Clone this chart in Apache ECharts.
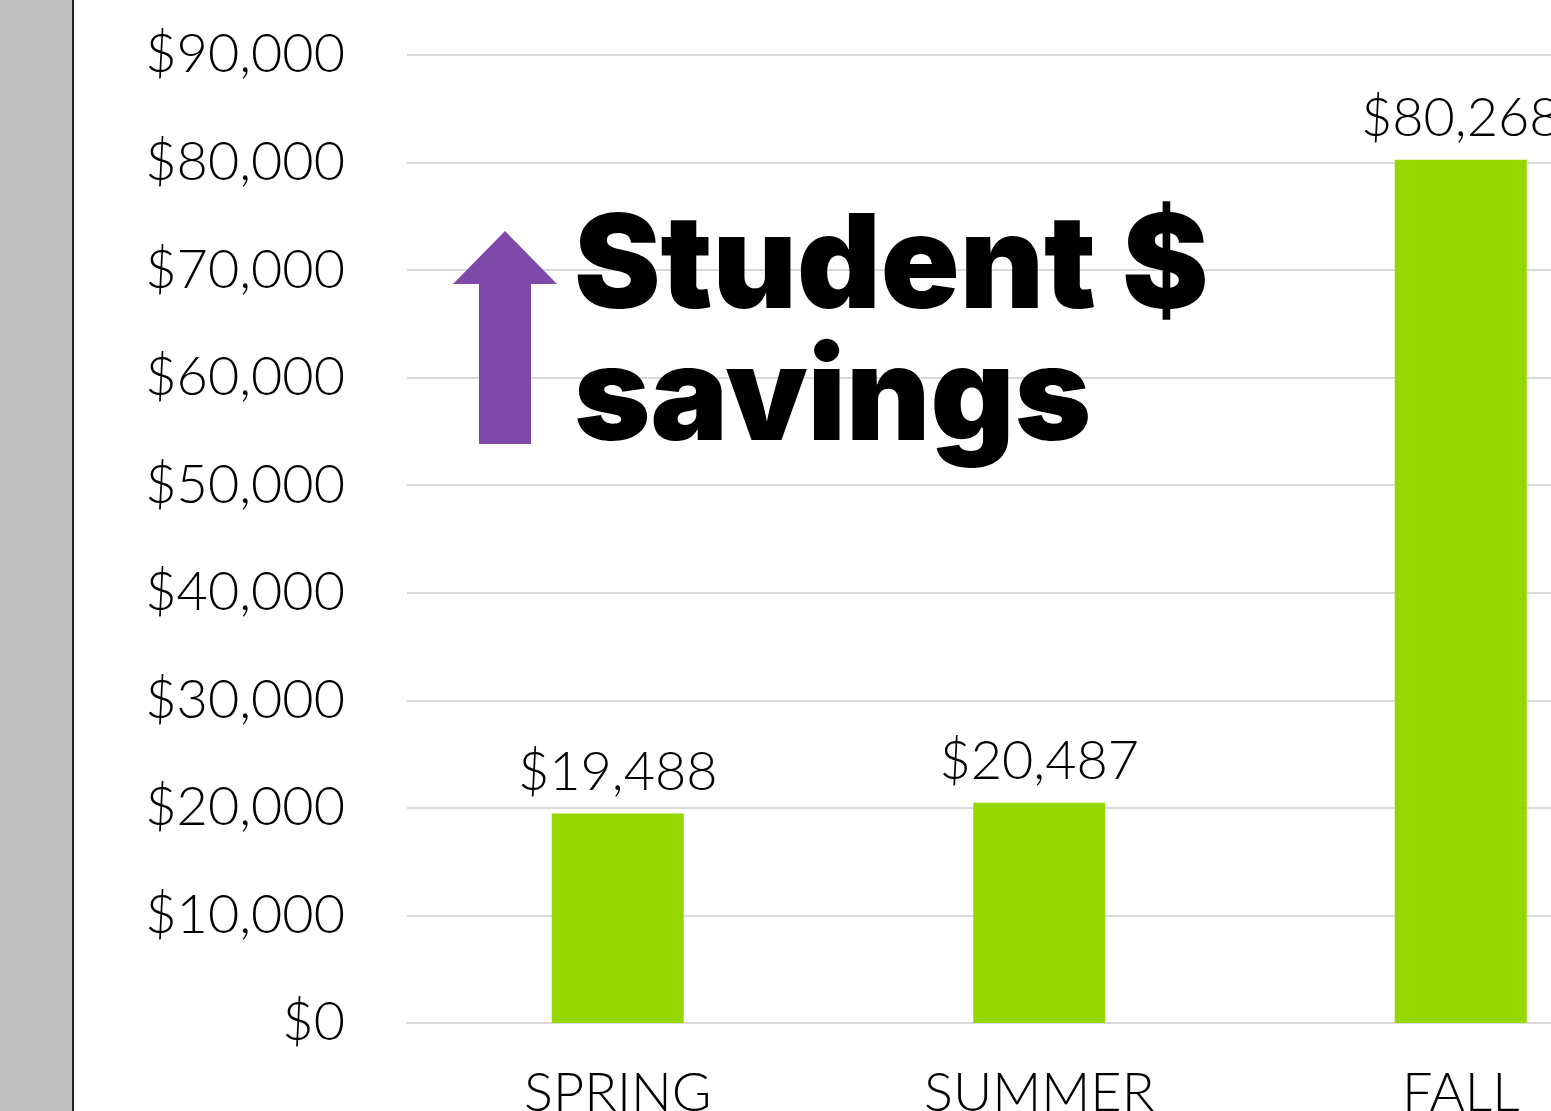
<!DOCTYPE html>
<html>
<head>
<meta charset="utf-8">
<script src="https://cdn.jsdelivr.net/npm/echarts@6/dist/echarts.min.js"></script>
<style>html,body{margin:0;padding:0;background:#fff}#c{width:1551px;height:1111px}</style>
</head>
<body>
<div id="c"></div>
<script>
const categories = ['SPRING', 'SUMMER', 'FALL'];
const savings = [19488, 20487, 80268];
const yTicks = [0, 10000, 20000, 30000, 40000, 50000, 60000, 70000, 80000, 90000];
const titleLines = ['Student $', 'savings'];

const fmt = v => '$' + v.toLocaleString('en-US');
const chart = echarts.init(document.getElementById('c'));
const FONT = 'Lato';
chart.setOption({
  animation: false,
  backgroundColor: '#ffffff',
  grid: { left: 407, width: 1264.5, top: 55, bottom: 88, containLabel: false, outerBoundsMode: 'none' },
  xAxis: {
    type: 'category', data: categories,
    axisLine: { show: true, lineStyle: { color: '#D9D9D9', width: 2 } },
    axisTick: { show: false },
    axisLabel: { color: '#000', fontFamily: FONT, fontWeight: 300, fontSize: 54, margin: 44 }
  },
  yAxis: {
    type: 'value', min: yTicks[0], max: yTicks[yTicks.length - 1], interval: 10000,
    axisLine: { show: false }, axisTick: { show: false },
    splitLine: { lineStyle: { color: '#D9D9D9', width: 2 } },
    axisLabel: { color: '#000', fontFamily: FONT, fontWeight: 300, fontSize: 54, margin: 62, formatter: fmt }
  },
  series: [{
    type: 'bar', data: savings, barWidth: 132,
    itemStyle: { color: '#97D700' },
    label: { show: true, position: 'top', distance: 14, color: '#000', fontFamily: FONT, fontWeight: 300, fontSize: 54, formatter: p => fmt(p.value) }
  }],
  graphic: [
    { type: 'rect', shape: { x: 0, y: 0, width: 72, height: 1111 }, style: { fill: '#BFBFBF' }, z: 10 },
    { type: 'line', shape: { x1: 73, y1: 0, x2: 73, y2: 1111 }, style: { stroke: '#222', lineWidth: 2 }, z: 10 },
    { type: 'polygon', shape: { points: [[505, 231], [557, 284], [531, 284], [531, 444], [479, 444], [479, 284], [453, 284]] }, style: { fill: '#7F49AA' }, z: 10 },
    { type: 'text', x: 574, y: 269, style: { text: titleLines[0], fontFamily: 'Inter', fontWeight: 900, fontSize: 130, fill: '#000', verticalAlign: 'middle' }, z: 10 },
    { type: 'text', x: 574, y: 401, style: { text: titleLines[1], fontFamily: 'Inter', fontWeight: 900, fontSize: 130, fill: '#000', verticalAlign: 'middle' }, z: 10 }
  ]
});
</script>
</body>
</html>
